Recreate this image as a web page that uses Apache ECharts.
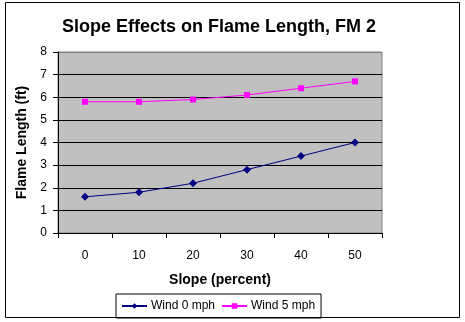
<!DOCTYPE html>
<html>
<head>
<meta charset="utf-8">
<script src="https://cdn.jsdelivr.net/npm/echarts@6/dist/echarts.min.js"></script>
<style>
html,body{margin:0;padding:0;background:#fff;}
#chart{width:465px;height:322px;}
</style>
</head>
<body>
<div id="chart"></div>
<script>
var categories = ['0', '10', '20', '30', '40', '50'];
var wind0 = [1.6, 1.8, 2.2, 2.8, 3.4, 4.0];
var wind5 = [5.8, 5.8, 5.9, 6.1, 6.4, 6.7];
var seriesNames = ['Wind 0 mph', 'Wind 5 mph'];
var titleText = 'Slope Effects on Flame Length, FM 2';
var xName = 'Slope (percent)';
var yName = 'Flame Length (ft)';

var font = 'Arial, "Liberation Sans", sans-serif';
var chart = echarts.init(document.getElementById('chart'), null, {renderer: 'canvas'});
chart.setOption({
  animation: false,
  backgroundColor: '#ffffff',
  title: {
    text: titleText,
    left: 62,
    top: 18,
    padding: 0,
    textStyle: {fontFamily: font, fontSize: 18, fontWeight: 'bold', color: '#000'}
  },
  graphic: [{
    type: 'rect',
    shape: {x: 5.5, y: 2.5, width: 454, height: 315},
    style: {fill: null, stroke: '#000', lineWidth: 1},
    silent: true,
    z: -1
  }],
  legend: {
    data: seriesNames,
    left: 116,
    top: 294,
    padding: [6, 6, 6, 5],
    itemGap: 6,
    itemWidth: 25,
    itemHeight: 7,
    borderColor: '#000',
    borderWidth: 1,
    textStyle: {fontFamily: font, fontSize: 12, color: '#000', padding: [0, 0, 0, -1]}
  },
  grid: {
    left: 58,
    right: 83,
    top: 52,
    bottom: 89,
    show: true,
    backgroundColor: '#C0C0C0',
    borderColor: '#808080',
    borderWidth: 1
  },
  xAxis: {
    type: 'category',
    data: categories,
    boundaryGap: true,
    name: xName,
    nameLocation: 'middle',
    nameGap: 40,
    nameTextStyle: {fontFamily: font, fontSize: 14, fontWeight: 'bold', color: '#000'},
    axisLine: {lineStyle: {color: '#000', width: 1}},
    axisTick: {show: true, length: 5, lineStyle: {color: '#000'}},
    axisLabel: {fontFamily: font, fontSize: 12, color: '#000', margin: 17},
    splitLine: {show: false}
  },
  yAxis: {
    type: 'value',
    min: 0,
    max: 8,
    interval: 1,
    name: yName,
    nameLocation: 'middle',
    nameGap: 28,
    nameRotate: 90,
    nameTextStyle: {fontFamily: font, fontSize: 14, fontWeight: 'bold', color: '#000'},
    axisLine: {show: true, lineStyle: {color: '#000', width: 1}},
    axisTick: {show: true, length: 5, lineStyle: {color: '#000'}},
    axisLabel: {fontFamily: font, fontSize: 12, color: '#000', margin: 11},
    splitLine: {show: true, lineStyle: {color: ['#000','#000','#000','#000','#000','#000','#000','#000','#808080'], width: 1}}
  },
  series: [{
    name: seriesNames[0],
    type: 'line',
    data: wind0,
    symbol: 'diamond',
    symbolSize: 8,
    color: '#000080',
    lineStyle: {width: 1, color: '#000080'},
    itemStyle: {color: '#000080'}
  }, {
    name: seriesNames[1],
    type: 'line',
    data: wind5,
    symbol: 'rect',
    symbolSize: 6,
    color: '#FF00FF',
    lineStyle: {width: 1, color: '#FF00FF'},
    itemStyle: {color: '#FF00FF'}
  }]
});
</script>
</body>
</html>
